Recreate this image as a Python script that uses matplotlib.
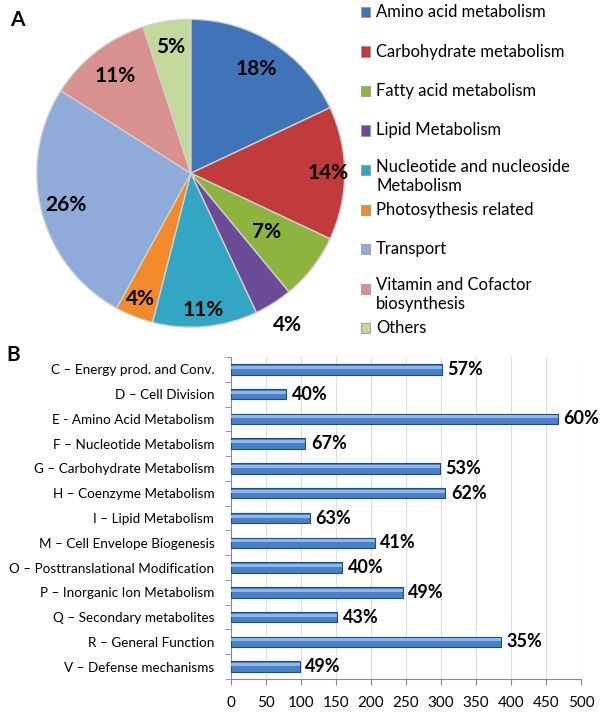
import numpy as np
import matplotlib
matplotlib.use("Agg")
import matplotlib.pyplot as plt

plt.rcParams['font.family'] = ['Lato', 'DejaVu Sans']

# pie data (panel A)
pie_labels = ["Amino acid metabolism", "Carbohydrate metabolism", "Fatty acid metabolism",
              "Lipid Metabolism", "Nucleotide and nucleoside\nMetabolism", "Photosythesis related",
              "Transport", "Vitamin and Cofactor\nbiosynthesis", "Others"]
pie_values = [18, 14, 7, 4, 11, 4, 26, 11, 5]
pie_colors = ["#3f74b9", "#c23b3b", "#8db43f", "#6b4b98", "#32a6c2", "#f08a2a",
              "#8eabd9", "#d99190", "#c3d89b"]
pct_radius = [0.80, 0.89, 0.62, 1.17, 0.89, 0.88, 0.84, 0.80, 0.83]

# bar data (panel B)
bar_labels = ["C \u2013 Energy prod. and Conv.", "D \u2013 Cell Division", "E - Amino Acid Metabolism",
              "F \u2013 Nucleotide Metabolism", "G \u2013 Carbohydrate Metabolism",
              "H \u2013 Coenzyme Metabolism", "I \u2013 Lipid Metabolism",
              "M \u2013 Cell Envelope Biogenesis", "O \u2013 Posttranslational Modification",
              "P \u2013 Inorganic Ion Metabolism", "Q \u2013 Secondary metabolites",
              "R \u2013 General Function", "V \u2013 Defense mechanisms"]
bar_values = [301, 79, 467, 106, 298, 306, 113, 205, 159, 245, 152, 386, 98]
bar_pcts = ["57%", "40%", "60%", "67%", "53%", "62%", "63%", "41%", "40%", "49%", "43%", "35%", "49%"]

fig = plt.figure(figsize=(6, 7.16), dpi=100)

# ---- pie ----
axp = fig.add_axes([0.318 - 0.2617, 0.758 - 0.2193, 0.5233, 0.4386])
wedges, _ = axp.pie(pie_values, colors=pie_colors, startangle=90, counterclock=False,
                    radius=1, wedgeprops=dict(edgecolor="#d0d0d0", linewidth=1.0))
axp.set_aspect("equal")
axp.set_xlim(-1.02, 1.02)
axp.set_ylim(-1.02, 1.02)
for w, v, r in zip(wedges, pie_values, pct_radius):
    ang = np.deg2rad((w.theta1 + w.theta2) / 2)
    axp.text(r * np.cos(ang), r * np.sin(ang), "%d%%" % v, ha="center", va="center",
             fontsize=15, fontweight="bold", color="black")

# legend drawn by hand (two-line entries overlap spacing like the original)
y0 = 1 - 12 / 716
step = 39.5 / 716
for i, (lab, col) in enumerate(zip(pie_labels, pie_colors)):
    y = y0 - i * step
    fig.patches.append(plt.Rectangle((361 / 600, y - 5 / 716), 9 / 600, 10 / 716,
                                     transform=fig.transFigure, facecolor=col,
                                     edgecolor="#9a9a9a", linewidth=0.6))
    if "\n" in lab:
        fig.text(376 / 600, y + 11 / 716, lab, ha="left", va="top", fontsize=12,
                 linespacing=1.2)
    else:
        fig.text(376 / 600, y, lab, ha="left", va="center", fontsize=12)

fig.text(10 / 600, 1 - 20 / 716, "A", fontsize=15, fontweight="bold", va="center")
fig.text(6 / 600, 1 - 355 / 716, "B", fontsize=15, fontweight="bold", va="center")

# ---- bars ----
axb = fig.add_axes([231 / 600, 1 - 679 / 716, 350 / 600, 322 / 716])
ypos = np.arange(len(bar_labels))
axb.barh(ypos, bar_values, height=0.42, color="#4a80c6", edgecolor="#1f4a85", linewidth=0.8,
         zorder=3)
axb.barh(ypos - 0.08, bar_values, height=0.12, color="#8fb6e8", linewidth=0, zorder=4)
for y, v, p in zip(ypos, bar_values, bar_pcts):
    axb.annotate(p, (v, y), xytext=(4, 0), textcoords="offset points", ha="left",
                 va="center", fontsize=13, fontweight="bold")
axb.set_ylim(len(bar_labels) - 0.5, -0.5)
axb.set_xlim(0, 500)
axb.set_xticks(np.arange(0, 501, 50))
axb.set_yticks(ypos)
axb.set_yticklabels(bar_labels, fontsize=9.7)
axb.set_yticks(np.arange(-0.5, len(bar_labels)), minor=True)
axb.tick_params(axis="y", which="major", length=0, pad=12)
axb.tick_params(axis="y", which="minor", length=4, color="#888888")
axb.tick_params(axis="x", length=4, color="#888888", labelsize=11, pad=8)
axb.grid(axis="x", color="#d9dde6", linewidth=0.8, zorder=0)
for s in ["top", "right"]:
    axb.spines[s].set_visible(False)
for s in ["left", "bottom"]:
    axb.spines[s].set_color("#888888")

fig.savefig("out.png", dpi=100)
